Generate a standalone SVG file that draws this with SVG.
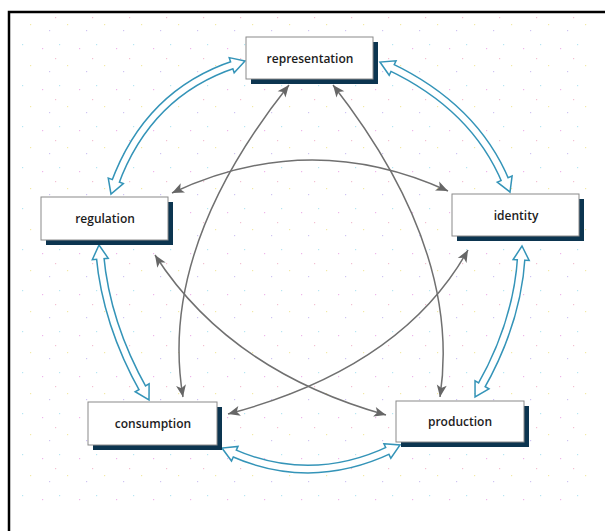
<svg xmlns="http://www.w3.org/2000/svg" width="605" height="531" viewBox="0 0 605 531">
  <defs>
    <style>
      .box { fill: #ffffff; stroke: #8a8a8a; stroke-width: 1; }
      .shadow { fill: #0c3550; }
      .label { font-family: "Open Sans", "Noto Sans", sans-serif; font-size: 12px; font-weight: 600; fill: #1c1c1c; text-anchor: middle; dominant-baseline: central; }
      .ho-outer { fill: none; stroke: #3494b8; stroke-width: 9; }
      .ho-heads { fill: none; stroke: none; marker-start: url(#hollow); marker-end: url(#hollow); }
      .ho-inner { fill: none; stroke: #ffffff; stroke-width: 6; }
      .gray { fill: none; stroke: #707070; stroke-width: 1.5; marker-start: url(#garrow); marker-end: url(#garrow); }
    </style>
    <marker id="hollow" markerUnits="userSpaceOnUse" orient="auto-start-reverse" viewBox="-2 -10 18 20" refX="4" refY="0" markerWidth="18" markerHeight="20" overflow="visible">
      <path d="M0,-8 L14,0 L0,8 Z" fill="#ffffff" stroke="#3494b8" stroke-width="1.5" stroke-linejoin="miter"/>
    </marker>
    <marker id="garrow" markerUnits="userSpaceOnUse" orient="auto-start-reverse" viewBox="-13 -6 14 12" refX="0" refY="0" markerWidth="14" markerHeight="12" overflow="visible">
      <path d="M-12,-5 L0,0 L-12,5 L-9,0 Z" fill="#666666"/>
    </marker>
    <pattern id="speck" patternUnits="userSpaceOnUse" width="37" height="41">
      <rect x="5" y="7" width="1.2" height="1.2" fill="#eeb6ea"/>
      <rect x="22" y="3" width="1.2" height="1.2" fill="#b6e6f2"/>
      <rect x="30" y="24" width="1.2" height="1.2" fill="#f2e9a6"/>
      <rect x="12" y="30" width="1.2" height="1.2" fill="#cfc4f2"/>
      <rect x="18" y="17" width="1.2" height="1.2" fill="#f2c0d2"/>
    </pattern>
  </defs>

  <rect x="0" y="0" width="605" height="531" fill="#ffffff"/>
  <rect x="20" y="16" width="575" height="492" fill="url(#speck)"/>
  <path d="M9,531 V12 H605" fill="none" stroke="#000000" stroke-width="2.5"/>

  <g id="connectors">
    <g id="hollow-arrows">
      <path class="ho-outer" d="M235.5,64 Q148,92.5 114.4,184.6"/>
      <path class="ho-outer" d="M389,66.3 Q475,107 506.2,182.8"/>
      <path class="ho-outer" d="M521.4,256 Q517.5,322.5 480,388.3"/>
      <path class="ho-outer" d="M231.1,452.1 Q311,487.5 391,449.3"/>
      <path class="ho-outer" d="M99.9,255 Q106,323.5 144.1,391.3"/>

      <path class="ho-heads" d="M235.5,64 Q148,92.5 114.4,184.6"/>
      <path class="ho-heads" d="M389,66.3 Q475,107 506.2,182.8"/>
      <path class="ho-heads" d="M521.4,256 Q517.5,322.5 480,388.3"/>
      <path class="ho-heads" d="M231.1,452.1 Q311,487.5 391,449.3"/>
      <path class="ho-heads" d="M99.9,255 Q106,323.5 144.1,391.3"/>

      <path class="ho-inner" d="M235.5,64 Q148,92.5 114.4,184.6"/>
      <path class="ho-inner" d="M389,66.3 Q475,107 506.2,182.8"/>
      <path class="ho-inner" d="M521.4,256 Q517.5,322.5 480,388.3"/>
      <path class="ho-inner" d="M231.1,452.1 Q311,487.5 391,449.3"/>
      <path class="ho-inner" d="M99.9,255 Q106,323.5 144.1,391.3"/>
    </g>
    <g id="gray-arrows">
      <path class="gray" d="M289,85 Q158,250 183,397"/>
      <path class="gray" d="M333,85 Q462,250 440,397"/>
      <path class="gray" d="M172,193 Q310,128 448,191"/>
      <path class="gray" d="M155,255 Q229.5,371 386,415"/>
      <path class="gray" d="M468,250 Q402,368 228,414"/>
    </g>
  </g>

  <g id="representation">
    <rect class="shadow" x="251" y="42" width="127" height="42"/>
    <rect class="box" x="246" y="37" width="127" height="42"/>
    <text class="label" x="310" y="58">representation</text>
  </g>
  <g id="regulation">
    <rect class="shadow" x="46" y="202" width="127" height="43"/>
    <rect class="box" x="41" y="197" width="127" height="43"/>
    <text class="label" x="105" y="218.5">regulation</text>
  </g>
  <g id="identity">
    <rect class="shadow" x="457" y="199" width="127" height="42"/>
    <rect class="box" x="452" y="194" width="127" height="42"/>
    <text class="label" x="516" y="215">identity</text>
  </g>
  <g id="consumption">
    <rect class="shadow" x="93" y="407" width="129" height="43"/>
    <rect class="box" x="88" y="402" width="129" height="43"/>
    <text class="label" x="153" y="423.5">consumption</text>
  </g>
  <g id="production">
    <rect class="shadow" x="401" y="406" width="128" height="41"/>
    <rect class="box" x="396" y="401" width="128" height="41"/>
    <text class="label" x="460" y="421.5">production</text>
  </g>
</svg>
